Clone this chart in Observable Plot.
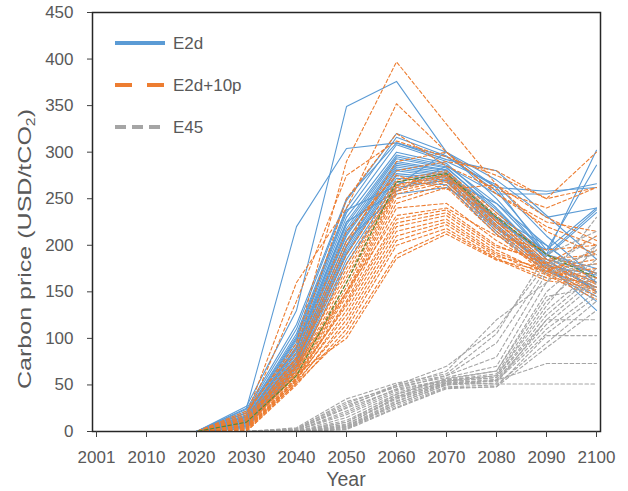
<!DOCTYPE html>
<html><head><meta charset="utf-8">
<script src="https://cdn.jsdelivr.net/npm/d3@7"></script>
<script src="https://cdn.jsdelivr.net/npm/@observablehq/plot@0.6"></script>
<style>
body{margin:0;background:#fff;}
#chart{position:relative;width:628px;height:491px;}
</style>
</head><body><div id="chart"></div>
<script>
const years = ["2001","2010","2020","2030","2040","2050","2060","2070","2080","2090","2100"];
const yTicks = [0,50,100,150,200,250,300,350,400,450];
const seriesNames = ["E2d","E2d+10p","E45"];

// E2d scenarios (blue, solid)
const e2d = [
  [0,0,0,25,220,304,310,295,262,258,262],
  [0,0,0,27,130,349,376,300,270,230,240],
  [0,0,0,22,110,248,320,300,250,190,302],
  [0,0,0,20,105,240,316,296,258,195,286],
  [0,0,0,18,100,235,308,290,265,210,165],
  [0,0,0,17,98,230,300,288,240,185,170],
  [0,0,0,15,95,225,297,286,245,200,160],
  [0,0,0,14,92,222,295,284,235,190,175],
  [0,0,0,13,90,218,293,283,238,185,150],
  [0,0,0,12,88,215,290,281,230,182,160],
  [0,0,0,11,85,212,288,280,228,188,235],
  [0,0,0,10,83,210,286,278,225,180,155],
  [0,0,0,9,80,205,284,276,222,178,168],
  [0,0,0,8,78,200,282,275,225,195,240],
  [0,0,0,7,76,198,280,273,228,190,150],
  [0,0,0,6,74,195,277,272,220,176,145],
  [0,0,0,5,72,192,275,270,215,175,140],
  [0,0,0,4,70,190,272,268,218,180,130],
  [0,0,0,3,68,185,268,265,212,172,155],
  [0,0,0,20,102,238,264,300,262,190,170],
  [0,0,0,16,90,225,258,285,255,255,266],
  [0,0,0,12,80,205,255,262,230,200,160],
  [0,0,0,24,115,250,310,292,280,232,185],
  [0,0,0,6,65,180,262,270,245,190,238]
];

// E2d+10p scenarios (orange, dashed)
const e2d10p = [
  [0,0,0,20,95,290,397,330,265,215,190],
  [0,0,0,18,160,240,352,300,255,220,200],
  [0,0,0,15,140,275,312,295,275,250,300],
  [0,0,0,22,90,250,320,285,260,240,262],
  [0,0,0,12,80,205,280,290,280,250,262],
  [0,0,0,10,75,190,270,280,235,190,170],
  [0,0,0,14,78,180,268,278,232,185,165],
  [0,0,0,8,70,175,265,276,228,182,160],
  [0,0,0,11,72,170,264,275,226,180,158],
  [0,0,0,6,68,165,262,274,225,178,155],
  [0,0,0,9,66,160,260,272,222,176,152],
  [0,0,0,5,64,155,258,270,220,175,150],
  [0,0,0,13,70,150,255,268,218,172,148],
  [0,0,0,4,62,148,250,265,215,170,145],
  [0,0,0,7,60,145,245,262,212,168,142],
  [0,0,0,3,58,140,240,245,205,175,180],
  [0,0,0,10,65,150,232,240,210,195,200],
  [0,0,0,2,56,138,228,238,200,180,210],
  [0,0,0,6,60,135,224,235,198,185,190],
  [0,0,0,1,55,130,220,232,195,170,175],
  [0,0,0,4,57,125,215,228,192,172,165],
  [0,0,0,0,52,120,210,225,190,168,170],
  [0,0,0,3,54,115,205,222,188,175,185],
  [0,0,0,0,50,110,200,218,186,165,160],
  [0,0,0,2,52,105,190,215,185,162,155],
  [0,0,0,8,62,100,186,212,184,172,195],
  [0,0,0,16,85,215,275,260,265,230,205],
  [0,0,0,12,75,200,290,300,255,225,215]
];

// extra scenario drawn in green (dashed, no legend entry)
const extraGreen = [0,0,0,10,60,160,268,277,230,190,165];

// E45 scenarios (grey, dashed)
const e45 = [
  [0,0,0,0,4,35,52,62,105,190,215],
  [0,0,0,0,3,30,50,60,95,175,210],
  [0,0,0,0,2,28,48,58,70,160,200],
  [0,0,0,0,2,25,45,56,65,150,195],
  [0,0,0,0,1,20,44,55,62,140,185],
  [0,0,0,0,1,18,42,55,60,130,175],
  [0,0,0,0,0,15,40,54,58,125,170],
  [0,0,0,0,0,12,38,53,58,120,165],
  [0,0,0,0,0,10,36,52,56,115,160],
  [0,0,0,0,0,8,35,52,55,110,150],
  [0,0,0,0,0,6,33,51,54,105,145],
  [0,0,0,0,0,5,30,50,52,120,120],
  [0,0,0,0,0,4,28,48,50,95,140],
  [0,0,0,0,0,3,26,47,48,90,130],
  [0,0,0,0,0,2,25,46,48,103,103],
  [0,0,0,0,0,3,30,50,55,73,73],
  [0,0,0,0,0,5,32,52,51,51,51],
  [0,0,0,0,3,32,48,65,120,160,230],
  [0,0,0,0,1,22,46,60,80,170,180],
  [0,0,0,0,0,10,40,57,65,145,155],
  [0,0,0,0,0,7,37,54,60,135,200],
  [0,0,0,0,2,26,50,70,110,180,190]
];

function toLong(rows, group) {
  const out = [];
  rows.forEach((r, i) => r.forEach((v, j) => out.push({id: group + i, group, year: years[j], value: v})));
  return out;
}
const dBlue = toLong(e2d, "E2d");
const dOrange = toLong(e2d10p, "E2d+10p");
const dGreen = toLong([extraGreen], "green");
const dGrey = toLong(e45, "E45");

const font = "'Liberation Sans', Arial, sans-serif";
const textColor = "#595959";

const chart = Plot.plot({
  width: 628,
  height: 491,
  marginLeft: 92,
  marginRight: 28,
  marginTop: 12,
  marginBottom: 60,
  style: {fontFamily: font, fontSize: "17px", color: textColor, background: "#fff"},
  x: {type: "point", domain: years, padding: 0},
  y: {domain: [0, 450]},
  marks: [
    Plot.line(dBlue, {x: "year", y: "value", z: "id", stroke: "#5B9BD5", strokeWidth: 1.1}),
    Plot.line(dOrange, {x: "year", y: "value", z: "id", stroke: "#ED7D31", strokeWidth: 1.1, strokeDasharray: "3.5,2.5"}),
    Plot.line(dGreen, {x: "year", y: "value", z: "id", stroke: "#4E8A3A", strokeWidth: 1.1, strokeDasharray: "3.5,2.5"}),
    Plot.line(dGrey, {x: "year", y: "value", z: "id", stroke: "#A5A5A5", strokeWidth: 1.1, strokeDasharray: "3.5,2.5"}),
    Plot.frame({stroke: "#262626", strokeWidth: 1.5}),
    Plot.axisX({ticks: years, tickSize: 6, tickPadding: 13, fontSize: 17, label: null, stroke: "#404040"}),
    Plot.axisY({ticks: yTicks, tickSize: 5, tickPadding: 14, fontSize: 17, label: null, stroke: "#404040"})
  ]
});
document.getElementById("chart").appendChild(chart);

const svg = d3.select(chart);
// axis titles
svg.append("text")
  .attr("x", 346).attr("y", 486)
  .attr("text-anchor", "middle")
  .attr("font-family", font).attr("font-size", 19.5).attr("fill", textColor)
  .text("Year");
const yt = svg.append("text")
  .attr("transform", "translate(31,249) rotate(-90)")
  .attr("text-anchor", "middle")
  .attr("font-family", font).attr("font-size", 19).attr("fill", textColor)
  .attr("textLength", 280).attr("lengthAdjust", "spacingAndGlyphs");
yt.append("tspan").text("Carbon price (USD/tCO");
yt.append("tspan").attr("font-size", 12).attr("dy", 4).text("2");
yt.append("tspan").attr("dy", -4).text(")");

// legend
const legend = [
  {name: seriesNames[0], color: "#5B9BD5", dash: null, y: 43},
  {name: seriesNames[1], color: "#ED7D31", dash: "17,15", y: 85},
  {name: seriesNames[2], color: "#A5A5A5", dash: "11,6", y: 127}
];
const lg = svg.append("g");
legend.forEach(l => {
  lg.append("line").attr("x1", 115).attr("x2", 165).attr("y1", l.y).attr("y2", l.y)
    .attr("stroke", l.color).attr("stroke-width", 4)
    .attr("stroke-dasharray", l.dash);
  lg.append("text").attr("x", 173).attr("y", l.y + 6)
    .attr("text-anchor", "start")
    .attr("font-family", font).attr("font-size", 17).attr("fill", textColor)
    .text(l.name);
});
</script>
</body></html>
